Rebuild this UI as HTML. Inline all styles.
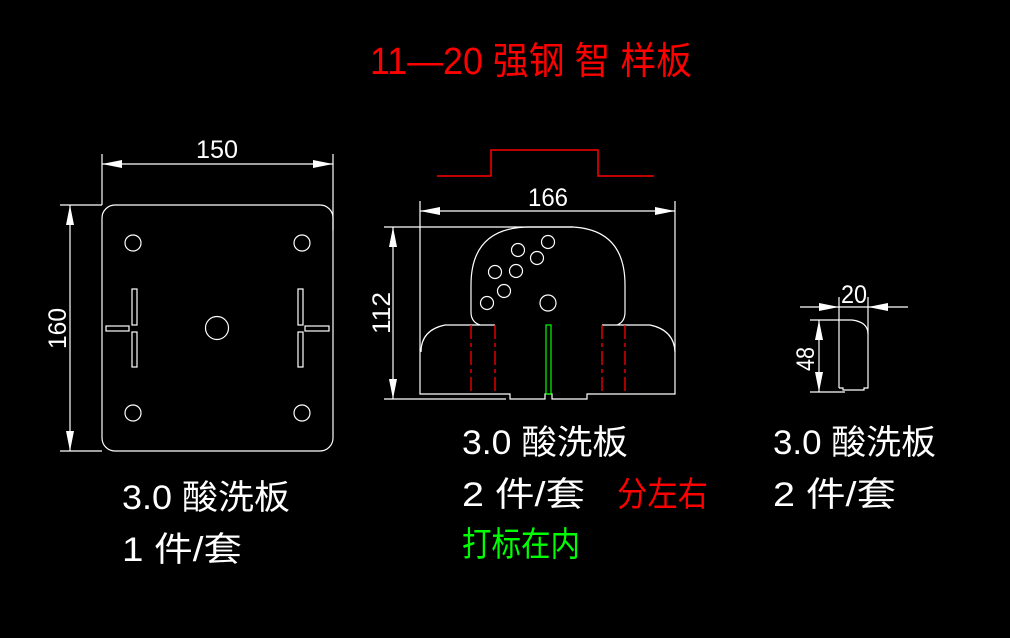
<!DOCTYPE html>
<html><head><meta charset="utf-8"><style>
html,body{margin:0;padding:0;background:#000;}
svg{display:block;}
text{font-family:"Liberation Sans","Noto Sans CJK SC",sans-serif;}
</style></head><body>
<svg width="1010" height="638" viewBox="0 0 1010 638" xmlns="http://www.w3.org/2000/svg">
<rect width="1010" height="638" fill="#000"/>
<!-- title -->
<text x="370" y="74" fill="#f00" font-size="38" textLength="322" lengthAdjust="spacingAndGlyphs">11—20 强钢 智 样板</text>

<g stroke="#fff" stroke-width="1.2" fill="none">
<!-- LEFT PLATE -->
<rect x="102" y="205" width="231" height="246" rx="13"/>
<line x1="102" y1="154" x2="102" y2="205"/>
<line x1="333" y1="154" x2="333" y2="230"/>
<line x1="102" y1="164" x2="333" y2="164"/>
<line x1="60" y1="205" x2="102" y2="205"/>
<line x1="60" y1="451" x2="102" y2="451"/>
<line x1="70" y1="205" x2="70" y2="451"/>
<circle cx="133" cy="243" r="8"/><circle cx="302" cy="243" r="8"/>
<circle cx="133" cy="413" r="8"/><circle cx="302" cy="413" r="8"/>
<circle cx="217" cy="328" r="11.5"/>
<rect x="132" y="289" width="5" height="36"/><rect x="132" y="332" width="5" height="35"/>
<rect x="106" y="326" width="23" height="5"/>
<rect x="298" y="289" width="5" height="36"/><rect x="298" y="332" width="5" height="35"/>
<rect x="305" y="326" width="24" height="5"/>

<!-- MIDDLE -->
<line x1="420" y1="201" x2="420" y2="352"/>
<line x1="675" y1="201" x2="675" y2="352"/>
<line x1="420" y1="211" x2="675" y2="211"/>
<line x1="384" y1="227" x2="573" y2="227"/>
<line x1="393" y1="227" x2="393" y2="399"/>
<line x1="384" y1="399" x2="506" y2="399"/>
<path d="M480,325 Q471,322 471,312 L471,285 Q471,227 530,227 L573,227 Q625,230 625,285 L625,312 Q625,322 617,325"/>
<path d="M495,325 L445,325 Q421,330 421,352"/>
<path d="M602,325 L650,325 Q674,330 675,352"/>
<path d="M420,352 L420,394 L510,394 L510,399 L545,399 L545,394 L552,394 L552,399 L587,399 L587,394 L675,394 L675,352"/>
<circle cx="548" cy="242" r="6.5"/><circle cx="518" cy="250" r="6.5"/>
<circle cx="537" cy="258" r="6.5"/><circle cx="516" cy="271" r="6.5"/>
<circle cx="495" cy="272" r="6.5"/><circle cx="504" cy="291" r="6.5"/>
<circle cx="487" cy="303" r="6.5"/><circle cx="548" cy="303" r="8"/>

<!-- RIGHT -->
<line x1="800" y1="307" x2="908" y2="307"/>
<line x1="839" y1="297" x2="839" y2="388"/>
<line x1="868" y1="297" x2="868" y2="334"/>
<line x1="810" y1="320" x2="852" y2="320"/>
<path d="M852,320 Q868,322 868,334 L868,388 L864,388 L864,390 L843,390 L843,388 L839,388"/>
<line x1="810" y1="392" x2="845" y2="392"/>
<line x1="819" y1="320" x2="819" y2="392"/>
</g>
<!-- red dashed -->
<g stroke="#f00" stroke-width="1.3" stroke-dasharray="14,4,4,4">
<line x1="471" y1="325" x2="471" y2="394"/><line x1="495" y1="325" x2="495" y2="394"/>
<line x1="602" y1="325" x2="602" y2="394"/><line x1="625" y1="325" x2="625" y2="394"/>
</g>
<rect x="546" y="325" width="5" height="69" stroke="#0f0" stroke-width="1.2" fill="none"/>
<path d="M437,176 L491,176 L491,150 L598,150 L598,176 L654,176" stroke="#f00" stroke-width="1.5" fill="none"/>

<!-- arrowheads -->
<g fill="#fff">
<path d="M102,164 L122,160 L122,168Z"/><path d="M333,164 L313,160 L313,168Z"/>
<path d="M70,205 L66,225 L74,225Z"/><path d="M70,451 L66,431 L74,431Z"/>
<path d="M420,211 L440,207 L440,215Z"/><path d="M675,211 L655,207 L655,215Z"/>
<path d="M393,227 L389,247 L397,247Z"/><path d="M393,399 L389,379 L397,379Z"/>
<path d="M839,307 L819,303 L819,311Z"/><path d="M868,307 L888,303 L888,311Z"/>
<path d="M819,320 L815,340 L823,340Z"/><path d="M819,392 L815,372 L823,372Z"/>
</g>

<!-- dim text -->
<g fill="#fff" font-size="25">
<text x="196" y="158" textLength="42" lengthAdjust="spacingAndGlyphs">150</text>
<text x="528" y="206" textLength="40" lengthAdjust="spacingAndGlyphs">166</text>
<text x="841" y="303" textLength="26" lengthAdjust="spacingAndGlyphs">20</text>
<text transform="translate(66,349) rotate(-90)" textLength="41" lengthAdjust="spacingAndGlyphs">160</text>
<text transform="translate(390,334) rotate(-90)" textLength="42" lengthAdjust="spacingAndGlyphs">112</text>
<text transform="translate(814,371) rotate(-90)" textLength="24" lengthAdjust="spacingAndGlyphs">48</text>
</g>

<!-- labels -->
<g font-size="34">
<text x="122" y="509" fill="#fff" textLength="168" lengthAdjust="spacingAndGlyphs">3.0 酸洗板</text>
<text x="122" y="561" fill="#fff" textLength="120" lengthAdjust="spacingAndGlyphs">1 件/套</text>
<text x="462" y="454" fill="#fff" textLength="166" lengthAdjust="spacingAndGlyphs">3.0 酸洗板</text>
<text x="462" y="506" fill="#fff" textLength="123" lengthAdjust="spacingAndGlyphs">2 件/套</text>
<text x="617" y="506" fill="#f00" textLength="91" lengthAdjust="spacingAndGlyphs">分左右</text>
<text x="462" y="556" fill="#0f0" textLength="118" lengthAdjust="spacingAndGlyphs">打标在内</text>
<text x="773" y="454" fill="#fff" textLength="163" lengthAdjust="spacingAndGlyphs">3.0 酸洗板</text>
<text x="773" y="506" fill="#fff" textLength="123" lengthAdjust="spacingAndGlyphs">2 件/套</text>
</g>
</svg>
</body></html>
